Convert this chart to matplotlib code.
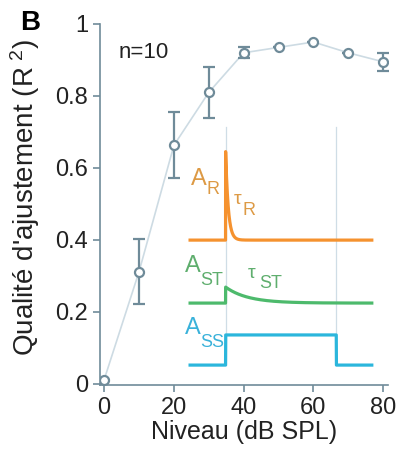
import numpy as np
import matplotlib.pyplot as plt

plt.rcParams['font.family'] = ['Liberation Sans', 'DejaVu Sans']
plt.rcParams['mathtext.default'] = 'regular'

# courbe principale : qualité d'ajustement en fonction du niveau
niveaux = [0, 10, 20, 30, 40, 50, 60, 70, 80]
r2 = [0.012, 0.312, 0.663, 0.81, 0.92, 0.935, 0.95, 0.92, 0.895]
err_haut = [0.0, 0.09, 0.092, 0.07, 0.015, 0.0, 0.0, 0.0, 0.025]
err_bas = [0.0, 0.09, 0.09, 0.07, 0.015, 0.0, 0.0, 0.0, 0.025]

# schéma des composantes (temps en ms)
t_debut, t_on, t_off, t_fin = -16, 0, 50, 66
A_R, tau_R = 0.37, 1.2
A_ST, tau_ST = 0.065, 10.0
A_SS = 0.122
base_R, base_ST, base_SS = 0.534, 0.279, 0.028

bleu_axe = '#6f8b99'
c_R, c_ST, c_SS = '#f5922f', '#4dba6c', '#2bb6dc'
c_R_txt, c_ST_txt, c_SS_txt = '#dd9a45', '#5fae6e', '#3ab2da'

fig = plt.figure(figsize=(3.98, 4.55), dpi=100)
ax = fig.add_axes([100 / 398, 1 - 385 / 455, 288 / 398, 361 / 455])

ax.plot(niveaux, r2, '-', color='#cddbe3', lw=1.2, zorder=1)
ax.errorbar(niveaux, r2, yerr=[err_bas, err_haut], fmt='o', mfc='white',
            mec=bleu_axe, mew=1.6, ms=6.5, ecolor=bleu_axe, elinewidth=1.6,
            capsize=4, capthick=1.6, zorder=3)

ax.set_xlim(-1.2, 81.4)
ax.set_ylim(-0.003, 1.0)
ax.set_xticks([0, 20, 40, 60, 80])
ax.set_yticks([0, 0.2, 0.4, 0.6, 0.8, 1])
ax.set_yticklabels(['0', '0.2', '0.4', '0.6', '0.8', '1'])
for s in ['top', 'right']:
    ax.spines[s].set_visible(False)
for s in ['left', 'bottom']:
    ax.spines[s].set_color(bleu_axe)
    ax.spines[s].set_linewidth(1.2)
ax.tick_params(colors=bleu_axe, labelcolor='#222222', labelsize=17,
               length=5, width=1.2, direction='out')
ax.set_xlabel('Niveau (dB SPL)', fontsize=18, color='#222222', labelpad=1)
ax.set_ylabel("Qualité d'ajustement (R$^{\\ 2}$)", fontsize=20,
              color='#222222')
ax.yaxis.set_label_coords(-0.20, 0.52)

ax.text(0.065, 0.92, 'n=10', transform=ax.transAxes, fontsize=16,
        color='#222222', va='center')
fig.text(20 / 398, 1 - 23 / 455, 'B', fontsize=20, fontweight='bold',
         va='center', ha='left')

# encart : composantes du modèle
ins = fig.add_axes([185 / 398, 1 - 372 / 455, 193 / 398, 247 / 455])
ins.set_xlim(t_debut - 2.3, t_fin + 2.8)
ins.set_ylim(0, 1)
ins.axis('off')

t = np.linspace(t_debut, t_fin, 2000)
on = (t >= t_on)
tr_R = base_R + np.where(on, A_R * np.exp(-(t - t_on) / tau_R), 0)
tr_ST = base_ST + np.where(on, A_ST * np.exp(-(t - t_on) / tau_ST), 0)
tr_SS = base_SS + np.where(on & (t < t_off), A_SS, 0)

for xv in [t_on, t_off]:
    ins.plot([xv, xv], [0.03, 0.99], color='#cfdde6', lw=0.9, zorder=1)
ins.plot(t, tr_R, color=c_R, lw=2.3, zorder=2)
ins.plot(t, tr_ST, color=c_ST, lw=2.3, zorder=2)
ins.plot(t, tr_SS, color=c_SS, lw=2.3, zorder=2)

ins.text(-15.5, 0.78, 'A', color=c_R_txt, fontsize=17, va='center')
ins.text(-8.5, 0.74, 'R', color=c_R_txt, fontsize=13, va='center')
ins.text(3.8, 0.70, 'τ', color=c_R_txt, fontsize=14, va='center')
ins.text(7.5, 0.655, 'R', color=c_R_txt, fontsize=13, va='center')

ins.text(-18.5, 0.43, 'A', color=c_ST_txt, fontsize=17, va='center')
ins.text(-11.5, 0.37, 'ST', color=c_ST_txt, fontsize=13, va='center')
ins.text(10.0, 0.40, 'τ', color=c_ST_txt, fontsize=14, va='center')
ins.text(15.0, 0.36, 'ST', color=c_ST_txt, fontsize=13, va='center')

ins.text(-18.5, 0.18, 'A', color=c_SS_txt, fontsize=17, va='center')
ins.text(-11.5, 0.12, 'SS', color=c_SS_txt, fontsize=13, va='center')

fig.savefig('out.png', dpi=100)
